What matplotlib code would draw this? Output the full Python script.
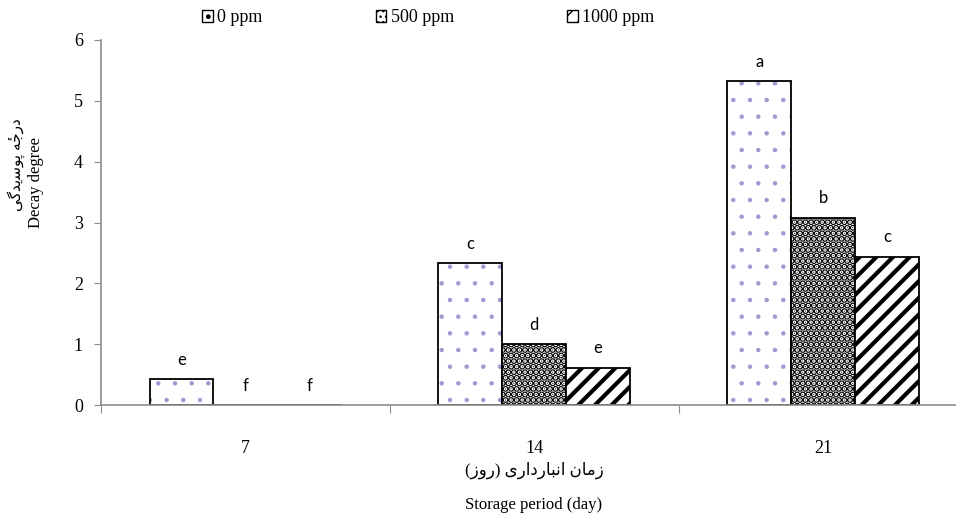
import numpy as np
import matplotlib.pyplot as plt
from matplotlib.patches import Patch

days = ['7', '14', '21']
series = ['0 ppm', '500 ppm', '1000 ppm']
decay_0 = [0.42, 2.33, 5.32]
decay_500 = [0.0, 1.0, 3.08]
decay_1000 = [0.0, 0.61, 2.44]
letters_0 = ['e', 'c', 'a']
letters_500 = ['f', 'd', 'b']
letters_1000 = ['f', 'e', 'c']

# Persian labels written in presentation forms, visual (left-to-right) order
xlabel_fa = '(\uFEAF\uFEED\uFEAD) \uFBFC\uFEAD\uFE8D\uFEA9\uFEAD\uFE8E\uFE92\uFEE7\uFE8D \uFEE5\uFE8E\uFEE3\uFEAF'
ylabel_fa = '\uFBFD\uFB94\uFEAA\uFBFE\uFEB3\uFEEE\uFB58 \uFEEA\u0654\uFE9F\uFEAD\uFEA9'
xlabel_en = 'Storage period (day)'
ylabel_en = 'Decay degree'

serif = ['Liberation Serif', 'DejaVu Sans']
gray = '#8c8c8c'

# hatch, hatch colour, hatch linewidth
styles = [('.', '#9c9cd2', 0.8), ('...', 'black', 3.3), ('//', 'black', 3.0)]
values = [decay_0, decay_500, decay_1000]
letters = [letters_0, letters_500, letters_1000]

fig = plt.figure(figsize=(9.56, 5.22), dpi=100)
ax = fig.add_axes([0.1056, 0.2241, 0.9064, 0.6993])

x = np.arange(len(days))
w = 0.221
for i, (vals, (h, hc, hlw)) in enumerate(zip(values, styles)):
    pos = x + (i - 1) * w
    bars = ax.bar(pos, vals, w, color='white', edgecolor=hc, linewidth=0, hatch=h)
    for p in bars:
        p.set_hatch_linewidth(hlw)
    ax.bar(pos, vals, w, fill=False, edgecolor='black', linewidth=1.3)
    for xp, v, t in zip(pos, vals, letters[i]):
        ax.annotate(t, (xp, v), xytext=(0, 14), textcoords='offset points',
                    ha='center', va='center', fontsize=12, family='Lato')

ax.set_xlim(-0.5, 2.5)
ax.set_ylim(0, 6)
ax.set_yticks(range(7))
ax.tick_params(axis='y', length=5, color=gray, pad=8, labelsize=13)
for t in ax.get_yticklabels():
    t.set_family(serif)

ax.set_xticks([-0.5, 0.5, 1.5, 2.5])
ax.set_xticklabels([])
ax.tick_params(axis='x', which='major', length=6, color=gray)
ax.set_xticks(x, minor=True)
ax.set_xticklabels(days, minor=True, fontsize=13, family=serif)
ax.tick_params(axis='x', which='minor', length=0, pad=25)

for s in ['top', 'right']:
    ax.spines[s].set_visible(False)
for s in ['left', 'bottom']:
    ax.spines[s].set_color(gray)
    ax.spines[s].set_linewidth(1.2)

fig.text(0.5586, 1 - 470 / 522, xlabel_fa, ha='center', va='center', fontsize=12, family=serif)
fig.text(0.5586, 1 - 505 / 522, xlabel_en, ha='center', va='center', fontsize=12, family=serif)
fig.text(16 / 956, 1 - 165 / 522, ylabel_fa, ha='center', va='center', rotation=90, fontsize=11, family=serif)
fig.text(36 / 956, 1 - 182 / 522, ylabel_en, ha='center', va='center', rotation=90, fontsize=12, family=serif)

handles = [Patch(facecolor='white', edgecolor='black', hatch=h, linewidth=1) for h, _, _ in styles]
fig.legend(handles, series, loc='center', bbox_to_anchor=(0.448, 1 - 18 / 522), ncol=3,
           frameon=False, prop={'family': serif, 'size': 13}, handlelength=0.6,
           handleheight=0.6, handletextpad=0.25, columnspacing=6.25)

fig.savefig('out.png', dpi=100)
